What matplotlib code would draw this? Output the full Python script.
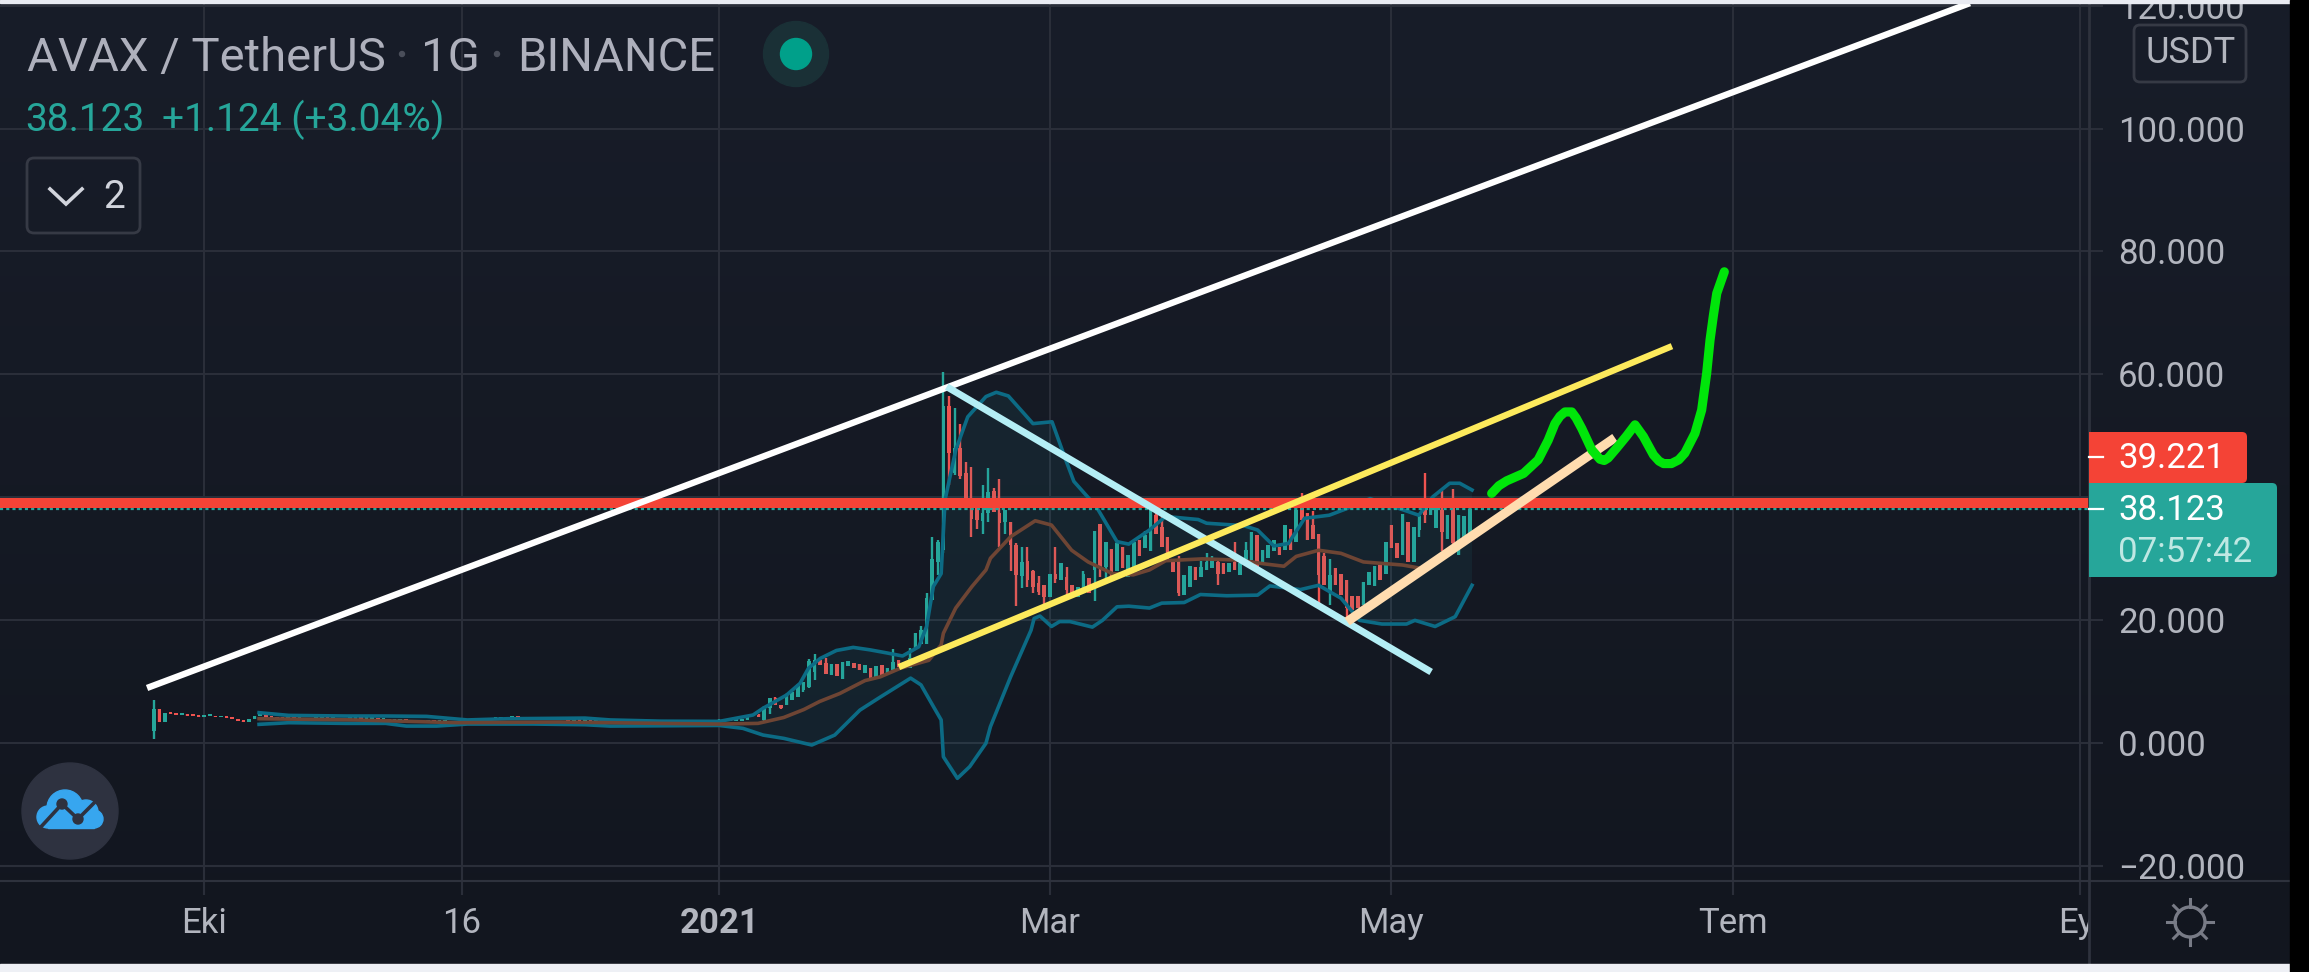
import matplotlib
matplotlib.use('Agg')
import matplotlib.pyplot as plt
from matplotlib.patches import Circle, FancyBboxPatch, Rectangle
import numpy as np

plt.rcParams['font.family'] = ['Roboto', 'DejaVu Sans']

BG_TOP = '#181d29'
BG_BOTTOM = '#12161f'
GRID = '#2a2e39'
UP = '#26a69a'
DOWN = '#ef5350'
LABEL = '#b2b5be'

# days counted from 2021-01-01, first daily candle is 2020-09-22
first_day = -101

# sep 2020 - dec 2020, each candle opens where the last one closed
closes_2020 = [5.5, 3.4, 4.9, 4.8, 4.6, 4.7, 4.5, 4.4, 4.3, 4.5, 4.5, 4.2, 4.3, 4.1, 4.0, 3.7, 3.5, 3.9, 4.4, 4.5,
               4.3, 4.1, 4.0, 3.9, 4.0, 3.9, 4.0, 3.8, 3.9, 3.9, 4.0, 3.9, 3.9, 3.8, 3.9, 3.9, 4.0, 3.9, 3.9, 3.9,
               3.8, 3.8, 3.7, 3.7, 3.8, 3.6, 3.5, 3.6, 3.5, 3.6, 3.5, 3.5, 3.6, 3.4, 3.5, 3.6, 3.7, 3.8, 3.9, 3.8,
               3.9, 4.0, 4.0, 4.1, 4.2, 4.1, 4.0, 3.9, 3.9, 3.8, 3.8, 3.9, 3.8, 3.8, 3.7, 3.7, 3.6, 3.6, 3.5, 3.5,
               3.5, 3.4, 3.5, 3.4, 3.4, 3.4, 3.3, 3.4, 3.3, 3.3, 3.3, 3.3, 3.2, 3.3, 3.3, 3.2, 3.3, 3.2, 3.2, 3.3, 3.4]
first_open = 2.0

opens_2021 = [3.4, 3.6, 3.8, 3.6, 3.7, 3.8, 4.4, 4.6, 3.8, 5.7, 7.4, 6.3, 6.2, 7.1, 7.5, 8.6, 9.2, 11.6, 13.5, 13.1,
              11.05, 12.9, 10.5, 12.5, 13.0, 12.9, 11.4, 12.2, 10.7, 12.7, 11.4, 11.9, 13.6, 12.4, 12.3, 15.2, 16.2, 16.2, 23.3, 29.5,
              31.4, 54.8, 44.0, 48.0, 44.0, 38.5, 39.0, 36.2, 37.4, 41.0, 37.4, 36.0, 36.0, 32.2, 27.2, 29.7, 28.0, 26.0, 25.7, 23.8,
              27.6, 26.5, 27.0, 25.7, 23.8, 25.2, 26.9, 28.2, 35.6, 28.7, 31.6, 28.0, 32.0, 27.0, 28.2, 33.0, 31.7, 31.2, 37.1, 35.2,
              33.5, 29.5, 30.0, 24.1, 25.5, 28.6, 27.1, 28.2, 28.5, 29.5, 29.3, 27.8, 29.5, 27.4, 29.8, 29.8, 33.9, 29.0, 30.2, 31.2,
              32.0, 31.4, 34.8, 32.8, 38.2, 37.4, 35.5, 34.0, 30.4, 24.4, 28.5, 27.6, 26.5, 23.9, 23.9, 22.5, 25.7, 25.6, 29.0, 27.6,
              35.5, 32.5, 30.6, 36.0, 29.5, 34.7, 39.6, 37.1, 35.0, 38.0, 33.3, 38.2, 30.6, 33.3, 33.6]
closes_2021 = [3.6, 3.8, 3.6, 3.7, 3.9, 4.4, 4.6, 4.2, 5.9, 7.4, 6.3, 5.7, 7.8, 8.4, 9.5, 9.9, 13.4, 13.5, 12.7, 11.3,
               12.9, 11.0, 13.3, 13.4, 12.2, 11.9, 12.7, 10.7, 12.6, 11.1, 12.2, 13.2, 12.4, 13.0, 13.8, 17.9, 18.4, 23.6, 29.9, 32.8,
               54.8, 47.2, 48.0, 43.4, 39.5, 36.5, 36.4, 37.5, 40.9, 37.7, 35.9, 38.0, 32.2, 27.4, 29.5, 26.5, 25.5, 24.6, 23.8, 27.6,
               26.8, 29.3, 25.0, 23.8, 25.5, 27.6, 24.4, 34.6, 28.7, 32.8, 27.1, 32.5, 28.5, 30.6, 32.8, 30.4, 33.9, 37.9, 34.0, 32.0,
               29.5, 27.9, 24.4, 27.4, 28.8, 26.6, 28.7, 29.5, 30.0, 27.6, 27.6, 29.4, 28.2, 29.3, 31.4, 34.3, 28.7, 31.4, 32.2, 33.0,
               30.6, 35.5, 31.5, 38.0, 36.3, 33.1, 33.3, 27.4, 25.7, 27.4, 25.7, 24.1, 22.0, 21.7, 22.0, 26.3, 27.9, 28.8, 26.6, 32.8,
               31.7, 30.2, 37.3, 29.5, 35.2, 36.9, 37.1, 38.2, 38.2, 34.4, 37.1, 32.5, 37.1, 36.9, 38.1]

# wicks that stick out of the body, everything else gets a body-only candle
wick_highs = {-101: 7.0, 0: 4.0, 7: 4.7, 8: 6.0, 10: 7.6, 12: 8.2, 13: 8.6, 14: 9.7, 16: 13.7, 17: 14.6, 19: 13.9, 31: 15.3,
              34: 15.5, 36: 19.0, 37: 24.4, 38: 33.6, 39: 33.0, 40: 60.4, 41: 56.5, 42: 54.5, 43: 52.0, 44: 45.7, 45: 45.0,
              47: 42.0, 48: 44.7, 49: 41.5, 50: 43.0, 53: 32.5, 54: 32.0, 55: 32.0, 56: 28.2, 57: 27.2, 60: 32.0, 62: 28.7,
              65: 28.0, 71: 33.0, 76: 34.5, 77: 39.0, 78: 38.0, 79: 38.0, 81: 30.0, 82: 30.5, 86: 29.7, 87: 31.0, 88: 30.5,
              89: 30.0, 92: 32.8, 94: 32.8, 103: 39.0, 104: 40.7, 106: 37.8, 108: 31.0, 109: 29.9, 118: 29.5, 126: 43.9,
              129: 41.0, 131: 41.3, 134: 39.8}
wick_lows = {-101: 0.7, 8: 3.3, 9: 4.8, 11: 5.5, 15: 8.3, 16: 9.0, 17: 10.3, 39: 27.4, 40: 31.0, 41: 42.0, 42: 43.6, 43: 43.0,
             44: 38.0, 45: 33.5, 46: 34.8, 47: 34.0, 48: 36.0, 50: 32.0, 51: 34.0, 52: 28.0, 53: 22.3, 54: 25.2, 55: 25.5,
             56: 24.5, 57: 24.2, 58: 22.5, 60: 26.0, 62: 24.0, 67: 23.2, 68: 27.0, 69: 26.0, 82: 24.0, 89: 25.7, 107: 22.8,
             109: 22.5, 112: 20.5, 125: 33.5, 126: 35.8, 129: 31.2, 131: 32.0}

# bollinger bands read at the turning points
upper_days = [-82.2, -76.9, -66.8, -59.6, -52.3, -45, -37.7, -24, -19.5, -10.4, 0, 6, 7.8, 12, 14.4, 15.9, 18, 20.9, 23.9, 26.9,
              29.9, 32.7, 35.6, 37, 38.2, 39.6, 40.3, 42.2, 44.35, 47.6, 49.45, 51.6, 56, 59.4, 61.85, 63.3, 67.3, 71, 73.1,
              76.8, 79.7, 85.5, 87, 93.6, 96.1, 99, 101.6, 104.5, 108.9, 112.1, 116.2, 122, 124.9, 127.4, 130.4, 132.2, 134.4]
upper_band = [4.98, 4.54, 4.44, 4.44, 4.38, 3.8, 4.0, 4.1, 3.8, 3.6, 3.57, 4.6, 5.7, 7.85, 9.75, 12.2, 13.8, 15.1, 15.6, 15.2,
              14.7, 14.2, 15.7, 19.0, 25.5, 27.6, 39.6, 47.7, 53.1, 56.4, 57.1, 56.5, 52.0, 52.3, 46.1, 42.6, 38.5, 32.8, 32.4,
              34.7, 36.9, 36.4, 35.8, 35.4, 34.7, 32.1, 32.5, 36.6, 37.1, 38.2, 39.8, 38.0, 37.1, 40.1, 42.3, 42.3, 41.2]
lower_days = [-82.2, -76.9, -66.8, -59.6, -55.9, -50.5, -45, -33.2, -24, -19.5, 0, 4.2, 7.8, 11.5, 16.5, 20.6, 25.1, 28.7, 34.15,
              36, 38.2, 39.6, 40, 42.5, 44.7, 47.6, 48.4, 52, 55.65, 56.2, 57.25, 59.3, 60.75, 62.6, 66.6, 68.4, 71, 73.1, 76.8,
              79, 83, 85.9, 90.6, 96.1, 98.3, 103.75, 107, 111, 114.3, 118.3, 122.7, 124.2, 127.8, 131.4, 134.4]
lower_band = [3.08, 3.35, 3.24, 3.24, 2.8, 2.8, 3.13, 3.13, 3.02, 2.8, 2.9, 2.43, 1.34, 0.8, -0.28, 1.34, 5.4, 7.5, 10.6,
              9.5, 6.0, 3.8, -2.2, -5.7, -3.8, 0.0, 2.7, 10.8, 18.4, 20.3, 20.7, 19.0, 19.8, 19.8, 18.9, 20.0, 22.2, 22.3, 22.0,
              22.8, 22.9, 24.2, 24.0, 24.1, 25.6, 25.0, 25.7, 23.6, 20.0, 19.4, 19.4, 20.0, 19.0, 20.6, 25.7]
basis_days = [-82.2, -65, -46.8, -28.6, -10.4, 0, 6.9, 11.5, 15.1, 17.9, 21.5, 26, 28.7, 32.3, 37.4, 39.6, 40, 42.2, 45.1, 47.6,
              48.4, 52, 56.4, 59.3, 62.9, 65.85, 70.2, 73.9, 76.8, 79.7, 86.3, 92.8, 97.2, 100.8, 103, 107, 111, 115, 122, 125.6]
basis_band = [4.0, 3.8, 3.35, 3.46, 3.24, 3.13, 3.24, 4.2, 5.5, 6.8, 8.1, 10.2, 10.8, 12.2, 13.5, 16.0, 17.9, 22.0, 25.5, 28.2,
              30.1, 33.6, 36.2, 35.5, 31.4, 29.5, 27.6, 27.4, 28.2, 29.7, 30.0, 29.8, 29.2, 28.8, 30.4, 31.4, 30.9, 29.5, 29.0, 28.4]

# hand drawn lines: (day, price) at both ends
white_line = ([-102.2, 223.3], [9.0, 120.4])
cyan_line = ([40.6, 127.1], [58.0, 11.6])
yellow_line = ([32.05, 170.1], [12.4, 64.6])
peach_line = ([112.1, 159.9], [19.8, 49.7])
green_days = [137.9, 139.2, 140.6, 143.6, 146.2, 148, 149.2, 150.1, 151, 152.2, 153, 154, 155.8, 157.25, 158, 158.7, 160.2, 162, 163.5,
              165, 166.8, 167.8, 168.6, 170, 171.3, 172.4, 174.2, 175.4, 176.3, 176.9, 177.5, 178.1, 179.45]
green_prices = [40.65, 41.9, 42.7, 43.9, 46.1, 49.3, 52.0, 53.2, 53.9, 53.9, 52.9, 51.2, 47.7, 46.2, 46.0, 46.4, 48.0, 50.0, 51.8,
                49.9, 46.9, 45.9, 45.5, 45.5, 46.1, 47.2, 50.4, 54.2, 60.2, 65.6, 69.6, 73.2, 76.7]

red_level = 39.1
last_price = 38.123

price_ticks = [120, 100, 80, 60, 40, 20, 0, -20]
price_labels = ['120.000', '100.000', '80.000', '60.000', '', '20.000', '0.000', '\u221220.000']
month_ticks = [-92, -46, 0, 59, 120, 181, 243]
month_labels = ['Eki', '16', '2021', 'Mar', 'May', 'Tem', 'Eyl']

W, H = 2309, 972
fig = plt.figure(figsize=(W / 100, H / 100), dpi=100)

# background, slightly lighter at the top
bg = fig.add_axes([0, 0, 1, 1], zorder=0)
top_c = np.array(matplotlib.colors.to_rgb(BG_TOP))
bot_c = np.array(matplotlib.colors.to_rgb(BG_BOTTOM))
grad = np.linspace(0, 1, 256)[:, None, None] * (bot_c - top_c) + top_c
bg.imshow(grad, aspect='auto', extent=[0, 1, 0, 1])
bg.axis('off')

ax = fig.add_axes([0, (H - 881) / H, 2089 / W, (881 - 3) / H], zorder=1)
ax.patch.set_alpha(0)
ax.set_xlim(-128.46, 244.57)
ax.set_ylim(-22.4, 120.42)

ax.set_yticks(price_ticks)
ax.set_yticklabels(price_labels)
ax.yaxis.tick_right()
ax.set_xticks(month_ticks)
ax.set_xticklabels(month_labels)
ax.tick_params(axis='y', length=10, width=1.5, color=GRID, labelcolor=LABEL, labelsize=25, pad=11)
ax.tick_params(axis='x', length=10, width=1.5, color=GRID, labelcolor=LABEL, labelsize=25, pad=8.5)
ax.get_xticklabels()[2].set_fontweight('bold')
ax.grid(True, color=GRID, linewidth=1.5, zorder=0)
ax.set_axisbelow(True)
for side in ax.spines:
    ax.spines[side].set_visible(False)

# candles, tiny bodies still get a visible height like on the real chart
opens = [first_open] + closes_2020[:-1] + opens_2021
closes = closes_2020 + closes_2021
days = np.arange(first_day, first_day + len(closes))
colors = [UP if c >= o else DOWN for o, c in zip(opens, closes)]
tops = [wick_highs.get(d, max(o, c)) for d, o, c in zip(days, opens, closes)]
bottoms = [wick_lows.get(d, min(o, c)) for d, o, c in zip(days, opens, closes)]
heights = np.maximum(np.abs(np.array(closes) - np.array(opens)), 0.3)
ax.vlines(days, bottoms, tops, colors=colors, linewidth=1.7, zorder=2)
ax.bar(days, heights, bottom=np.minimum(opens, closes), width=0.66, color=colors, zorder=2)

# bollinger bands
ax.fill(np.r_[upper_days, lower_days[::-1]], np.r_[upper_band, lower_band[::-1]], color='#2196a8', alpha=0.09, linewidth=0, zorder=3)
ax.plot(upper_days, upper_band, color='#0c6b85', linewidth=2.6, zorder=3)
ax.plot(lower_days, lower_band, color='#0c6b85', linewidth=2.6, zorder=3)
ax.plot(basis_days, basis_band, color='#6e4534', linewidth=2.6, zorder=3)

# price lines
ax.axhline(last_price, color=UP, linewidth=1.6, linestyle=(0, (1.4, 1.4)), zorder=4)
ax.axhline(red_level, color='#f44336', linewidth=7.2, zorder=5)

# drawings on the chart
ax.plot(*white_line, color='white', linewidth=4.6, solid_capstyle='butt', zorder=6)
ax.plot(*cyan_line, color='#b4eef5', linewidth=5, solid_capstyle='butt', zorder=6)
ax.plot(*yellow_line, color='#fdea5c', linewidth=4.6, solid_capstyle='butt', zorder=7)
ax.plot(*peach_line, color='#ffdcaf', linewidth=6.6, solid_capstyle='butt', zorder=7)
ax.plot(green_days, green_prices, color='#00e60a', linewidth=6.6, solid_capstyle='round', solid_joinstyle='round', zorder=8)

# everything that is screen furniture goes in pixel coordinates
ui = fig.add_axes([0, 0, 1, 1], zorder=2)
ui.set_xlim(0, W)
ui.set_ylim(H, 0)
ui.axis('off')

# axis borders and the cover for the clipped Eyl label
ui.add_patch(Rectangle((2090, 883), 200, 81, color=BG_BOTTOM, zorder=1))
ui.plot([0, 2290], [881, 881], color='#2e323d', linewidth=1.5, zorder=2)
ui.plot([2089, 2089], [3, 964], color='#2e323d', linewidth=2, zorder=2)

ui.text(27, 70.7, 'AVAX / TetherUS', color='#aeb0bc', fontsize=34, va='baseline')
ui.text(421, 70.7, '1G', color='#aeb0bc', fontsize=34, va='baseline')
ui.text(517, 70.7, 'BINANCE', color='#aeb0bc', fontsize=34, va='baseline')
ui.add_patch(Circle((402, 54), 2.5, color='#4a4e5a'))
ui.add_patch(Circle((497, 54), 2.5, color='#4a4e5a'))
ui.add_patch(Circle((796, 54), 32.5, color='#1a3036'))
ui.add_patch(Circle((796, 54), 15.5, color='#00a08a'))
ui.text(25, 130.7, '38.123', color=UP, fontsize=28, va='baseline')
ui.text(162, 130.7, '+1.124 (+3.04%)', color=UP, fontsize=28, va='baseline')

ui.add_patch(FancyBboxPatch((31, 162), 105, 67, boxstyle='round,pad=4,rounding_size=7', fc='none', ec='#363a45', lw=2))
ui.plot([50, 66, 82], [189, 204, 189], color='#d1d4dc', linewidth=2.6, solid_joinstyle='miter')
ui.text(103, 208, '2', color='#d1d4dc', fontsize=28, va='baseline')

# tradingview cloud button
ui.add_patch(Circle((70, 811), 48, color='#2e3240'))
for cx, cy, r in [(65, 808, 18), (86, 812, 12), (94, 819, 9), (48, 817, 11)]:
    ui.add_patch(Circle((cx, cy), r, color='#37a6ef', zorder=3))
ui.add_patch(Rectangle((48, 815), 46, 13, color='#37a6ef', zorder=3))
ui.plot([39, 62, 78, 97], [829, 804, 819, 800], color='#2e3240', linewidth=2.6, zorder=4)
ui.add_patch(Circle((62, 804), 5, color='#2e3240', zorder=4))
ui.add_patch(Circle((78, 819), 5, color='#2e3240', zorder=4))

# USDT box and the two price labels, square on the axis side
ui.add_patch(FancyBboxPatch((2138, 29), 104, 49, boxstyle='round,pad=4,rounding_size=6', fc='none', ec='#363a45', lw=2))
ui.text(2191, 53, 'USDT', color=LABEL, fontsize=26, ha='center', va='center')
ui.add_patch(FancyBboxPatch((2093, 436), 150, 43, boxstyle='round,pad=4,rounding_size=5', fc='#f44336', ec='none', zorder=3))
ui.add_patch(Rectangle((2089, 432), 20, 51, fc='#f44336', lw=0, zorder=3))
ui.add_patch(FancyBboxPatch((2093, 487), 180, 86, boxstyle='round,pad=4,rounding_size=5', fc='#26a69a', ec='none', zorder=3))
ui.add_patch(Rectangle((2089, 483), 20, 94, fc='#26a69a', lw=0, zorder=3))
ui.plot([2089, 2103], [457, 457], color='white', linewidth=1.6, zorder=4)
ui.plot([2089, 2103], [509, 509], color='white', linewidth=1.6, zorder=4)
ui.text(2118, 458, '39.221', color='white', fontsize=25, va='center', zorder=4)
ui.text(2118, 510, '38.123', color='white', fontsize=25, va='center', zorder=4)
ui.text(2118, 552.5, '07:57:42', color='#bfe8e3', fontsize=25, va='center', zorder=4)

# settings gear
ui.add_patch(Circle((2190, 922), 15, fc='none', ec='#787b86', lw=2.4))
for a in np.deg2rad(np.arange(0, 360, 45)):
    ui.plot([2190 + 15 * np.cos(a), 2190 + 23 * np.cos(a)], [922 + 15 * np.sin(a), 922 + 23 * np.sin(a)], color='#787b86', linewidth=2.2)

# screenshot edges
ui.add_patch(Rectangle((0, 0), W, 3, color='#e9ebf2', zorder=9))
ui.add_patch(Rectangle((0, 964), W, 8, color='#eef0f5', zorder=9))
ui.add_patch(Rectangle((2290, 0), 19, H, color='black', zorder=10))

fig.savefig('out.png', dpi=100, facecolor=BG_BOTTOM)
